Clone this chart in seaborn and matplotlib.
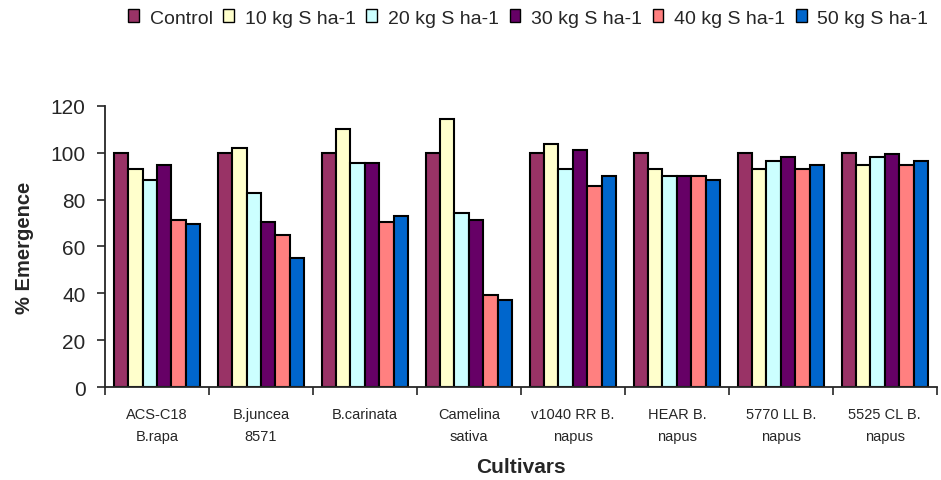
import pandas as pd
import numpy as np
import matplotlib.pyplot as plt
import seaborn as sns
from matplotlib.ticker import FixedLocator

# ---- data ----
cultivars = ["ACS-C18\nB.rapa", "B.juncea\n8571", "B.carinata", "Camelina\nsativa",
             "v1040 RR B.\nnapus", "HEAR B.\nnapus", "5770 LL B.\nnapus", "5525 CL B.\nnapus"]
treatments = ["Control", "10 kg S ha-1", "20 kg S ha-1", "30 kg S ha-1", "40 kg S ha-1", "50 kg S ha-1"]

control = [100, 100, 100, 100, 100, 100, 100, 100]
s10 = [93.2, 102.0, 110.2, 114.2, 103.7, 93.2, 93.2, 94.7]
s20 = [88.2, 82.6, 95.5, 74.3, 93.2, 89.9, 96.5, 98.0]
s30 = [94.7, 70.5, 95.5, 71.2, 101.3, 89.9, 98.0, 99.6]
s40 = [71.1, 64.8, 70.3, 39.4, 85.8, 89.9, 93.2, 94.7]
s50 = [69.6, 54.9, 72.9, 37.1, 89.9, 88.3, 94.7, 96.5]

colors = ["#993366", "#FFFFCC", "#CCFFFF", "#660066", "#FF8080", "#0066CC"]

rows = []
for t, vals in zip(treatments, [control, s10, s20, s30, s40, s50]):
    for c, v in zip(cultivars, vals):
        rows.append({"Cultivar": c, "Treatment": t, "Emergence": v})
df = pd.DataFrame(rows)

# ---- plot ----
sns.set_style("ticks")
plt.rcParams["font.family"] = ["Liberation Sans", "DejaVu Sans"]

fig = plt.figure(figsize=(9.41, 4.81), dpi=100)
ax = fig.add_axes([0.1115, 0.193, 0.884, 0.585])

sns.barplot(data=df, x="Cultivar", y="Emergence", hue="Treatment",
            palette=colors, width=0.83, gap=0, edgecolor="black", linewidth=1.5,
            saturation=1, ax=ax, legend=True)

ax.set_ylim(0, 120)
ax.set_xlim(-0.5, len(cultivars) - 0.5)
ax.set_yticks(range(0, 121, 20))
ax.tick_params(axis="y", labelsize=15, length=6, width=1.2, direction="out", pad=8)

# ticks between categories, labels centered
ax.xaxis.set_minor_locator(FixedLocator(np.arange(-0.5, len(cultivars), 1)))
ax.tick_params(axis="x", which="major", length=0, pad=14)
ax.tick_params(axis="x", which="minor", length=6, width=1.2)
for lab in ax.get_xticklabels():
    lab.set_family(["Liberation Sans Narrow", "Liberation Sans", "DejaVu Sans"])
    lab.set_fontsize(10.5)
    lab.set_linespacing(1.75)

ax.set_xlabel("Cultivars", fontsize=15, fontweight="bold", labelpad=10)
ax.set_ylabel("% Emergence", fontsize=14.5, fontweight="bold", labelpad=12)

for s in ["top", "right"]:
    ax.spines[s].set_visible(False)
for s in ["left", "bottom"]:
    ax.spines[s].set_linewidth(1.3)

handles, labels = ax.get_legend_handles_labels()
ax.get_legend().remove()
leg = fig.legend(handles, labels, loc="center right", bbox_to_anchor=(0.9947, 1 - 19 / 481),
                 ncol=6, frameon=False, fontsize=14, handlelength=0.55, handleheight=0.6,
                 handletextpad=0.55, columnspacing=0.55, borderaxespad=0)
for h in leg.legend_handles:
    h.set_linewidth(1.0)

plt.savefig("out.png", dpi=100)
